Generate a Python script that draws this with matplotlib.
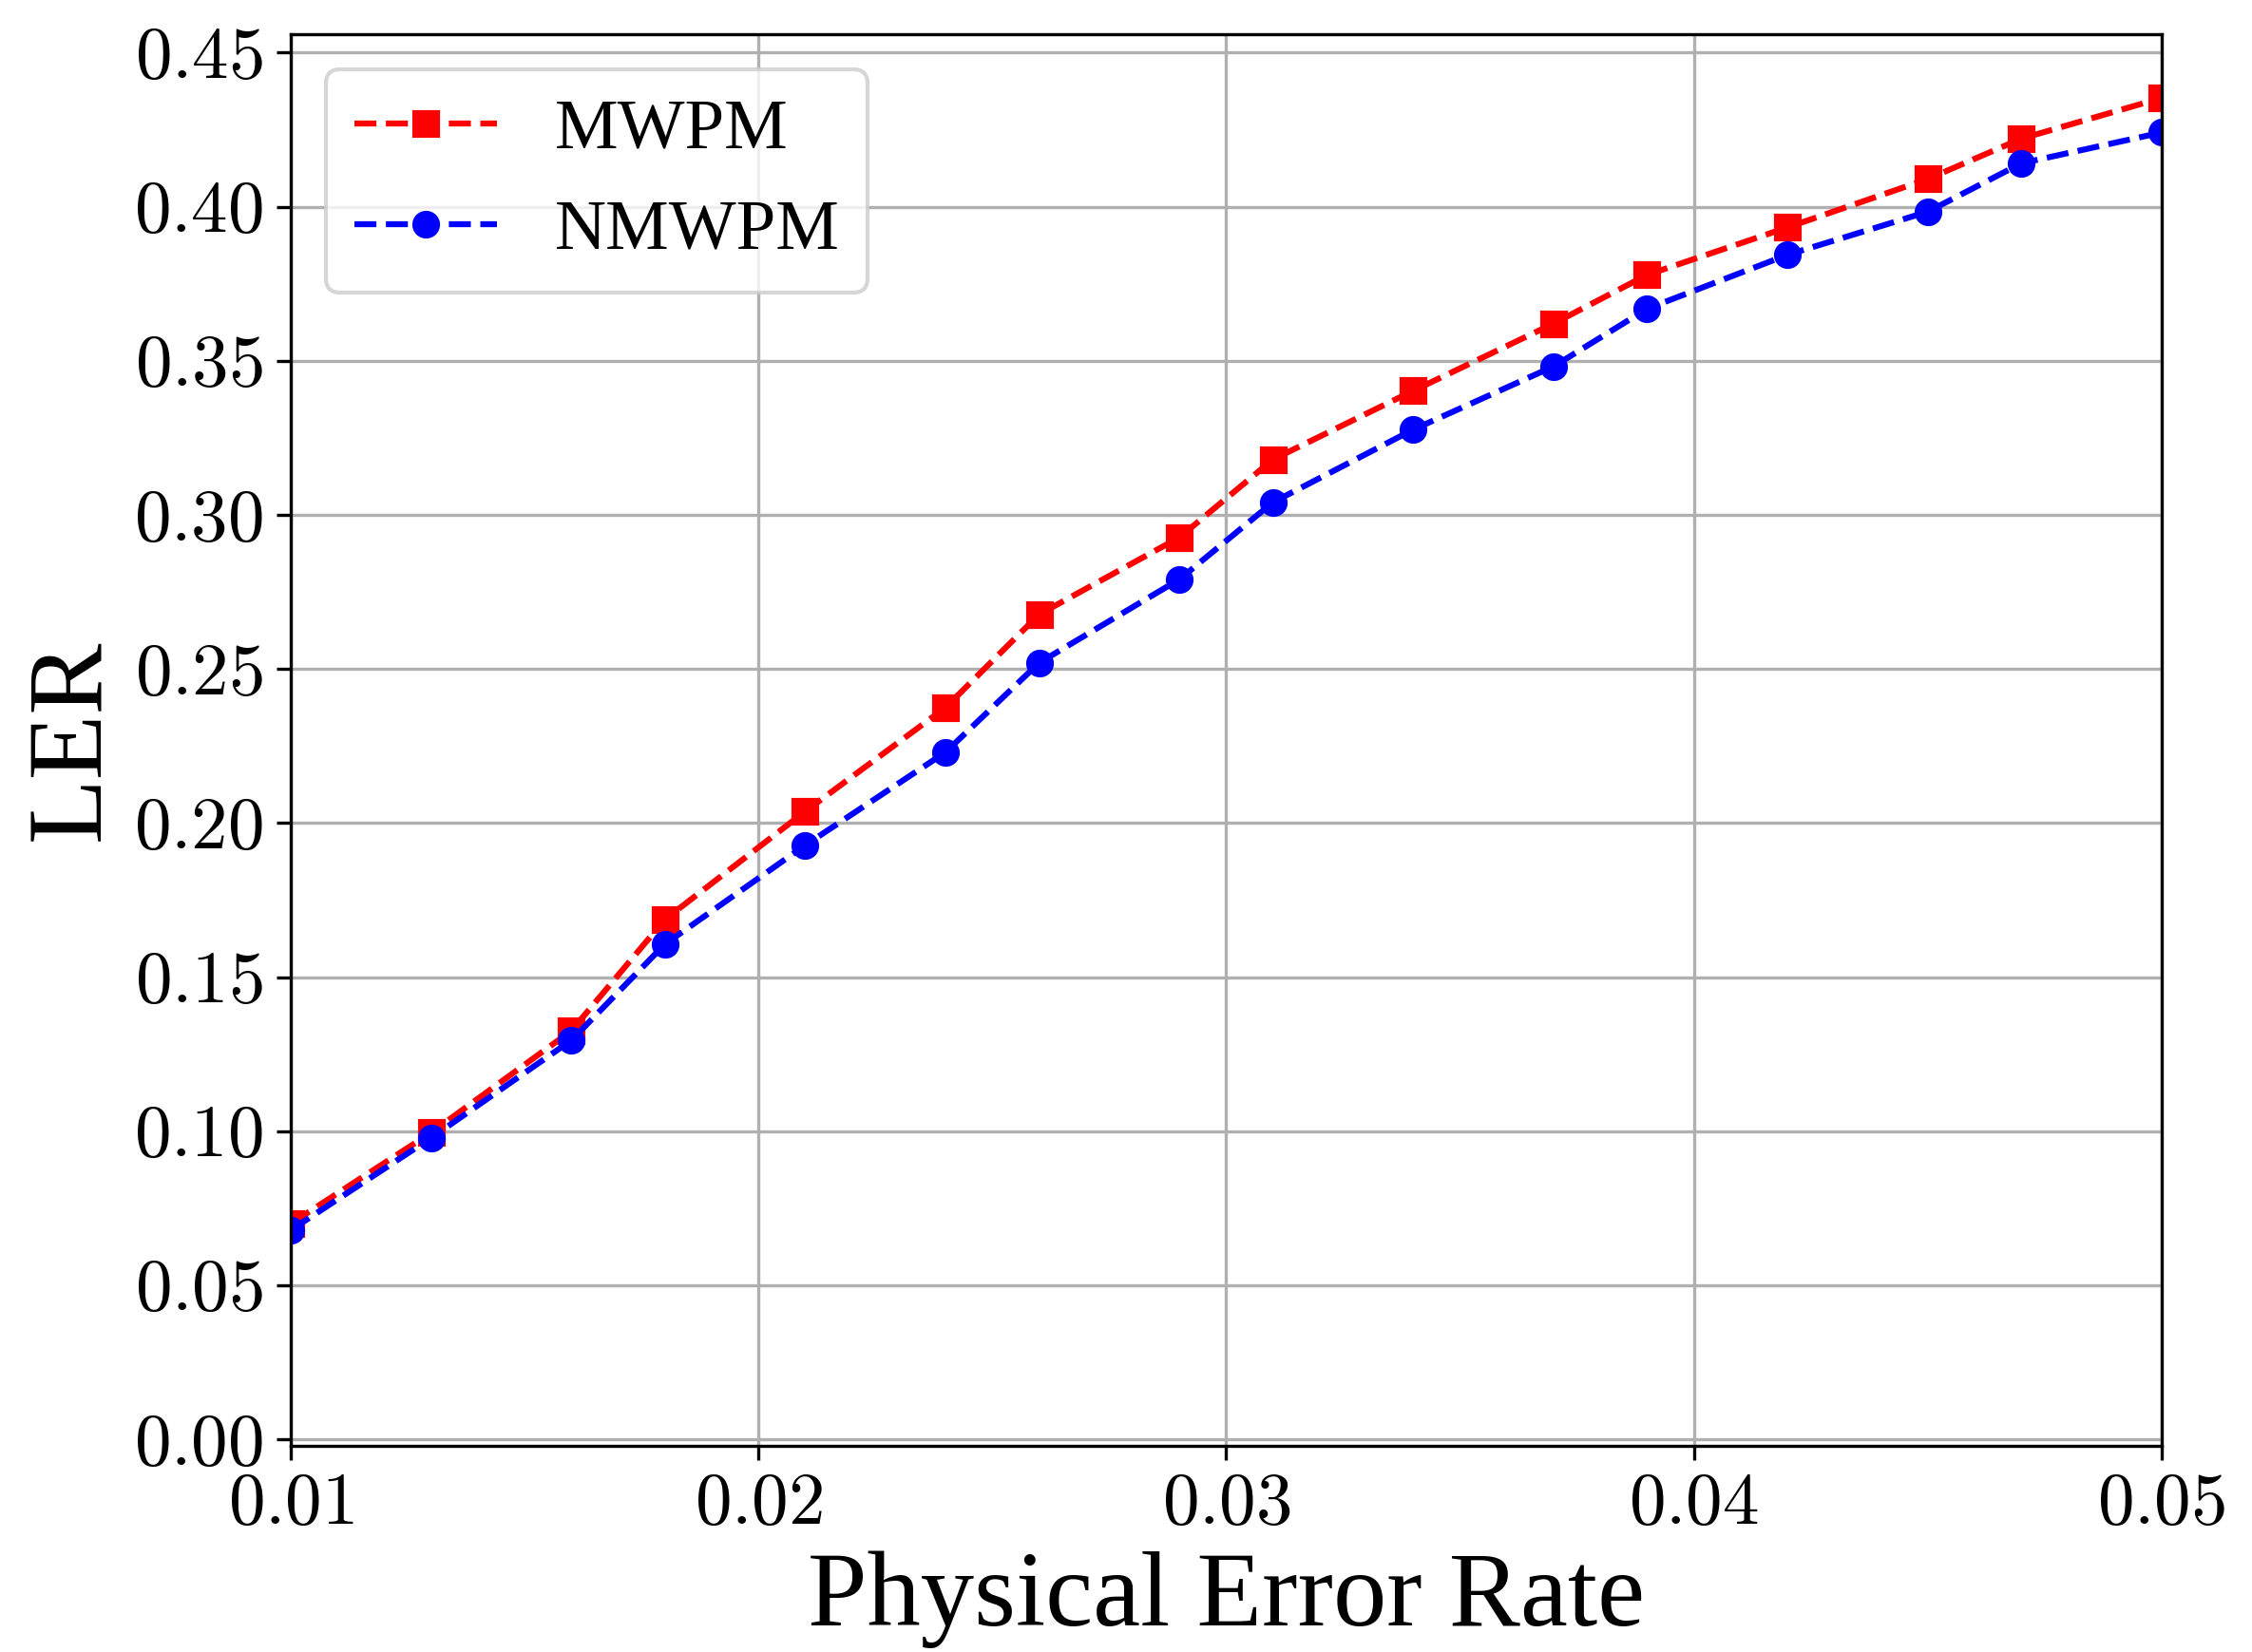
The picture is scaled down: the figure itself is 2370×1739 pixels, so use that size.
import matplotlib
matplotlib.use('Agg')
import matplotlib.pyplot as plt
from matplotlib.ticker import FuncFormatter, MultipleLocator

# Data
error_rates = [0.010, 0.013, 0.016, 0.018, 0.021, 0.024, 0.026, 0.029,
               0.031, 0.034, 0.037, 0.039, 0.042, 0.045, 0.047, 0.050]
ler_mwpm = [0.0700, 0.0995, 0.1326, 0.1687, 0.2038, 0.2375, 0.2677, 0.2927,
            0.3180, 0.3403, 0.3621, 0.3779, 0.3933, 0.4090, 0.4221, 0.4353]
ler_nmwpm = [0.0679, 0.0978, 0.1295, 0.1607, 0.1928, 0.2230, 0.2520, 0.2791,
             0.3041, 0.3277, 0.3482, 0.3669, 0.3844, 0.3984, 0.4141, 0.4241]

plt.rcParams['mathtext.fontset'] = 'cm'
plt.rcParams['font.family'] = ['Liberation Serif', 'DejaVu Serif']

fig = plt.figure(figsize=(7.9, 1739 / 300), dpi=300)
ax = fig.add_axes([0.1291, 0.1250, 0.9599 - 0.1291, 0.9793 - 0.1250])

ax.plot(error_rates, ler_mwpm, 'rs--', label='MWPM')
ax.plot(error_rates, ler_nmwpm, 'bo--', label='NMWPM')

ax.set_xlim(0.01, 0.05)
ax.set_ylim(-0.002, 0.456)
ax.xaxis.set_major_locator(MultipleLocator(0.01))
ax.yaxis.set_major_locator(MultipleLocator(0.05))
ax.xaxis.set_major_formatter(FuncFormatter(lambda v, p: f'${v:.2f}$'))
ax.yaxis.set_major_formatter(FuncFormatter(lambda v, p: f'${v:.2f}$'))
ax.tick_params(labelsize=18.5)

ax.set_xlabel('Physical Error Rate', fontsize=27, labelpad=3)
ax.set_ylabel('LER', fontsize=27, labelpad=3)
ax.grid(True)
ax.legend(fontsize=18, loc='upper left')

fig.savefig('out.png', dpi=300)
